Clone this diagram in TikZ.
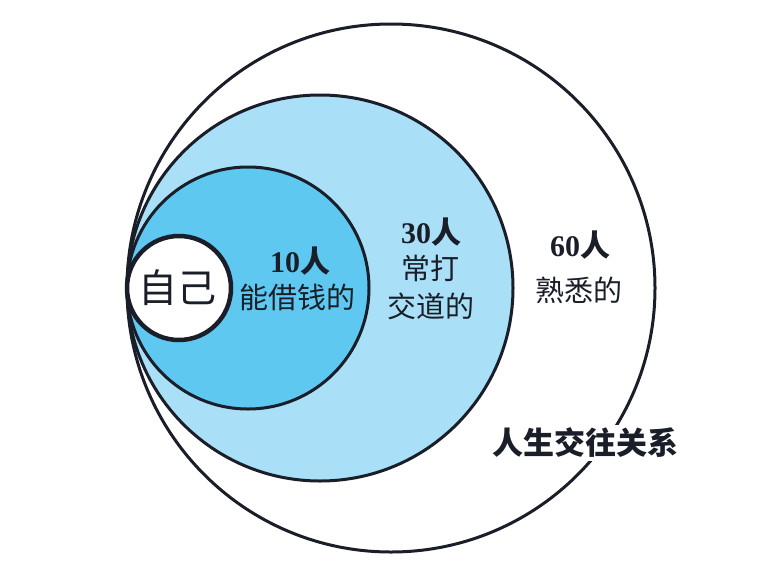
\documentclass[tikz,border=0pt]{standalone}
\usepackage{fontspec}
\setmainfont{Liberation Serif}
\newfontfamily\cjk{Noto Sans CJK SC}
\definecolor{palebl}{RGB}{170,223,248}
\definecolor{midbl}{RGB}{94,200,241}
\definecolor{ink}{RGB}{25,30,40}
\tikzset{
  ring/.style={draw=ink, line width=3pt},
  lbl/.style={font=\cjk\fontsize{29}{32}\selectfont, text=ink, inner sep=1pt},
  cnt/.style={font=\bfseries\fontsize{30}{32}\selectfont, text=ink, inner sep=1pt}
}
\newcommand{\ppl}[1]{#1{\cjk\bfseries 人}}

\begin{document}
\begin{tikzpicture}[x=1pt, y=-1pt]
  \useasboundingbox (0,0) rectangle (784,573);
  \coordinate (C60) at (391,288);
  \coordinate (C30) at (320,288);
  \coordinate (C10) at (248,288);
  \coordinate (Cme) at (179,288);
  \filldraw[ring, fill=white] (C60) circle (264);
  \filldraw[ring, fill=palebl] (C30) circle (193);
  \filldraw[ring, fill=midbl] (C10) circle (121);
  \filldraw[ring, fill=white, line width=4.5pt] (Cme) circle (52);
  \node[lbl, font=\cjk\fontsize{39}{41}\selectfont] (me) at (177,288) {自己};
  \node[cnt] (n10) at (300,261) {\ppl{10}};
  \node[lbl] (t10) at (297,297) {能借钱的};
  \node[cnt] (n30) at (431,232) {\ppl{30}};
  \node[lbl] (t30a) at (430,268) {常打};
  \node[lbl] (t30b) at (431,306) {交道的};
  \node[cnt] (n60) at (580,245) {\ppl{60}};
  \node[lbl] (t60) at (579,290) {熟悉的};
  \node[lbl, fill=white, font=\cjk\bfseries\fontsize{31}{33}\selectfont,
        inner sep=3pt] (title) at (585,443) {人生交往关系};
\end{tikzpicture}
\end{document}
